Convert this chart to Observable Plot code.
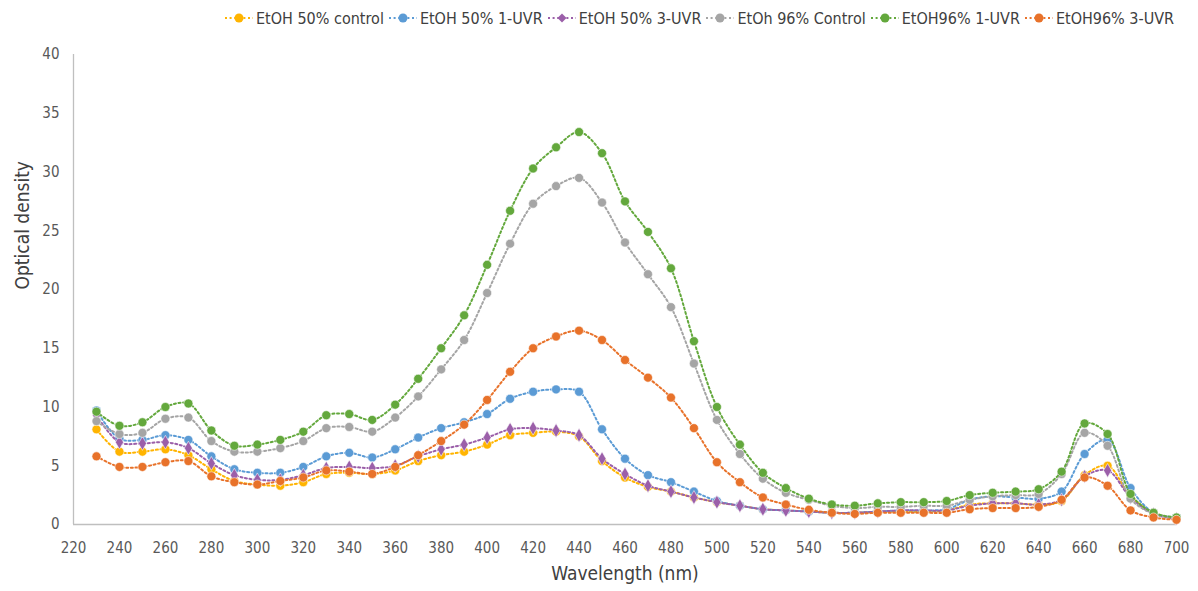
<!DOCTYPE html>
<html>
<head>
<meta charset="utf-8">
<script src="https://cdn.jsdelivr.net/npm/d3@7"></script>
<script src="https://cdn.jsdelivr.net/npm/@observablehq/plot@0.6"></script>
<style>
  html, body { margin: 0; padding: 0; background: #fff; }
  body { width: 1198px; height: 591px; overflow: hidden; font-family: "Liberation Sans Narrow", "DejaVu Sans Condensed", Roboto, sans-serif; }
  #legend { height: 36px; display: flex; align-items: center; padding-left: 225px; box-sizing: border-box; color: #404040; font-size: 16px; white-space: nowrap; }
  .item { display: flex; align-items: center; margin-right: 5px; }
  .item svg { margin-right: 3px; }
</style>
</head>
<body>
<div id="legend"></div>
<div id="chart"></div>
<script>
// Wavelengths sampled every 10 nm
const wavelengths = [230, 240, 250, 260, 270, 280, 290, 300, 310, 320,
  330, 340, 350, 360, 370, 380, 390, 400, 410, 420,
  430, 440, 450, 460, 470, 480, 490, 500, 510, 520,
  530, 540, 550, 560, 570, 580, 590, 600, 610, 620,
  630, 640, 650, 660, 670, 680, 690, 700];

const etoh50Control = [8.1, 6.2, 6.2, 6.4, 5.9, 4.7, 3.7, 3.4, 3.3, 3.6,
  4.3, 4.4, 4.3, 4.6, 5.4, 5.9, 6.2, 6.8, 7.6, 7.8,
  7.9, 7.5, 5.4, 4.0, 3.2, 2.8, 2.3, 1.9, 1.6, 1.3,
  1.2, 1.1, 1.0, 1.0, 1.1, 1.1, 1.1, 1.2, 1.7, 1.8,
  1.8, 1.7, 2.0, 4.2, 5.0, 2.4, 1.0, 0.5];

const etoh50Uvr1 = [9.7, 7.3, 7.2, 7.6, 7.2, 5.8, 4.7, 4.4, 4.4, 4.9,
  5.8, 6.1, 5.7, 6.4, 7.4, 8.2, 8.7, 9.4, 10.7, 11.3,
  11.5, 11.3, 8.1, 5.6, 4.2, 3.6, 2.8, 2.0, 1.6, 1.3,
  1.2, 1.1, 1.0, 1.0, 1.1, 1.2, 1.2, 1.3, 2.1, 2.4,
  2.3, 2.2, 2.8, 6.0, 7.2, 3.1, 1.0, 0.6];

const etoh50Uvr3 = [9.3, 7.0, 6.9, 7.0, 6.5, 5.2, 4.2, 3.8, 3.8, 4.2,
  4.8, 4.9, 4.8, 5.0, 5.8, 6.4, 6.8, 7.4, 8.1, 8.2,
  8.0, 7.6, 5.6, 4.3, 3.3, 2.8, 2.3, 1.9, 1.6, 1.3,
  1.2, 1.1, 1.0, 1.0, 1.1, 1.2, 1.2, 1.2, 1.6, 1.8,
  1.8, 1.7, 2.1, 4.1, 4.6, 2.3, 0.9, 0.5];

const etoh96Control = [8.8, 7.7, 7.8, 9.0, 9.1, 7.1, 6.2, 6.2, 6.5, 7.1,
  8.2, 8.3, 7.9, 9.1, 10.9, 13.2, 15.7, 19.7, 23.9, 27.3,
  28.8, 29.5, 27.4, 24.0, 21.3, 18.5, 13.7, 8.9, 6.0, 3.9,
  2.7, 2.1, 1.6, 1.4, 1.5, 1.5, 1.6, 1.6, 2.1, 2.4,
  2.5, 2.6, 4.3, 7.8, 6.7, 2.2, 0.9, 0.5];

const etoh96Uvr1 = [9.6, 8.4, 8.7, 10.0, 10.3, 8.0, 6.7, 6.8, 7.2, 7.9,
  9.3, 9.4, 8.9, 10.2, 12.4, 15.0, 17.8, 22.1, 26.7, 30.3,
  32.1, 33.4, 31.6, 27.5, 24.9, 21.8, 15.6, 10.0, 6.8, 4.4,
  3.1, 2.2, 1.7, 1.6, 1.8, 1.9, 1.9, 2.0, 2.5, 2.7,
  2.8, 3.0, 4.5, 8.6, 7.7, 2.6, 1.0, 0.6];

const etoh96Uvr3 = [5.8, 4.9, 4.9, 5.3, 5.4, 4.1, 3.6, 3.4, 3.7, 4.0,
  4.6, 4.5, 4.3, 4.9, 5.9, 7.1, 8.5, 10.6, 13.0, 15.0,
  16.0, 16.5, 15.7, 14.0, 12.5, 10.8, 8.2, 5.3, 3.6, 2.3,
  1.7, 1.25, 1.0, 0.9, 1.0, 1.0, 1.0, 1.0, 1.3, 1.4,
  1.4, 1.5, 2.1, 4.0, 3.3, 1.2, 0.6, 0.4];

const seriesNames = ["EtOH 50% control", "EtOH 50% 1-UVR", "EtOH 50% 3-UVR",
  "EtOh 96% Control", "EtOH96% 1-UVR", "EtOH96% 3-UVR"];
const seriesValues = [etoh50Control, etoh50Uvr1, etoh50Uvr3, etoh96Control, etoh96Uvr1, etoh96Uvr3];
const seriesColors = ["#FFB400", "#5B9BD5", "#9B5FA9", "#A5A5A5", "#63A83C", "#E8722A"];
const seriesSymbols = ["circle", "circle", "diamond", "circle", "circle", "circle"];

const xTicks = [220, 240, 260, 280, 300, 320, 340, 360, 380, 400, 420, 440, 460, 480, 500, 520, 540, 560, 580, 600, 620, 640, 660, 680, 700];
const yTicks = [0, 5, 10, 15, 20, 25, 30, 35, 40];

const fontFamily = '"Liberation Sans Narrow", "DejaVu Sans Condensed", Roboto, sans-serif';
const dash = "2,2.6";

// Legend: dotted swatch with marker, then series name
const legend = document.getElementById("legend");
seriesNames.forEach((name, i) => {
  const item = document.createElement("div");
  item.className = "item";
  const marker = seriesSymbols[i] === "diamond"
    ? `<path d="M14,4.5 L18.5,9 L14,13.5 L9.5,9 Z" fill="${seriesColors[i]}"/>`
    : `<circle cx="14" cy="9" r="4.5" fill="${seriesColors[i]}"/>`;
  item.innerHTML = `<svg width="28" height="18"><line x1="0" x2="28" y1="9" y2="9" stroke="${seriesColors[i]}" stroke-width="2" stroke-dasharray="${dash}"/>${marker}</svg><span>${name}</span>`;
  legend.appendChild(item);
});

const marks = [
  Plot.ruleY([0], {stroke: "#bfbfbf", strokeWidth: 1.3}),
  Plot.ruleX([220], {stroke: "#bfbfbf", strokeWidth: 1.3})
];

seriesValues.forEach((vals, i) => {
  const rows = wavelengths.map((wl, j) => ({wl, v: vals[j]}));
  marks.push(Plot.line(rows, {
    x: "wl", y: "v", stroke: seriesColors[i], strokeWidth: 2,
    strokeDasharray: dash, curve: "catmull-rom"
  }));
  marks.push(Plot.dot(rows, {
    x: "wl", y: "v", fill: seriesColors[i], symbol: () => seriesSymbols[i],
    r: seriesSymbols[i] === "diamond" ? 4.2 : 4.5,
    stroke: "#ffffff", strokeOpacity: 0.55, strokeWidth: 1
  }));
});

marks.push(Plot.text(["Optical density"], {
  text: d => d, frameAnchor: "left", dx: -51, rotate: -90,
  fontSize: 19, fill: "#404040"
}));
marks.push(Plot.text(["Wavelength (nm)"], {
  text: d => d, frameAnchor: "bottom", dy: 55,
  fontSize: 19, fill: "#404040"
}));

const chart = Plot.plot({
  width: 1198,
  height: 555,
  marginTop: 18,
  marginBottom: 67,
  marginLeft: 73,
  marginRight: 22,
  style: {fontSize: "15px", fontFamily, color: "#595959", background: "#fff"},
  x: {domain: [220, 700], ticks: xTicks, tickSize: 0, tickPadding: 18, label: null, tickFormat: d => String(d)},
  y: {domain: [0, 40], ticks: yTicks, tickSize: 0, tickPadding: 14, label: null},
  symbol: {type: "identity"},
  marks
});
document.getElementById("chart").appendChild(chart);
</script>
</body>
</html>
